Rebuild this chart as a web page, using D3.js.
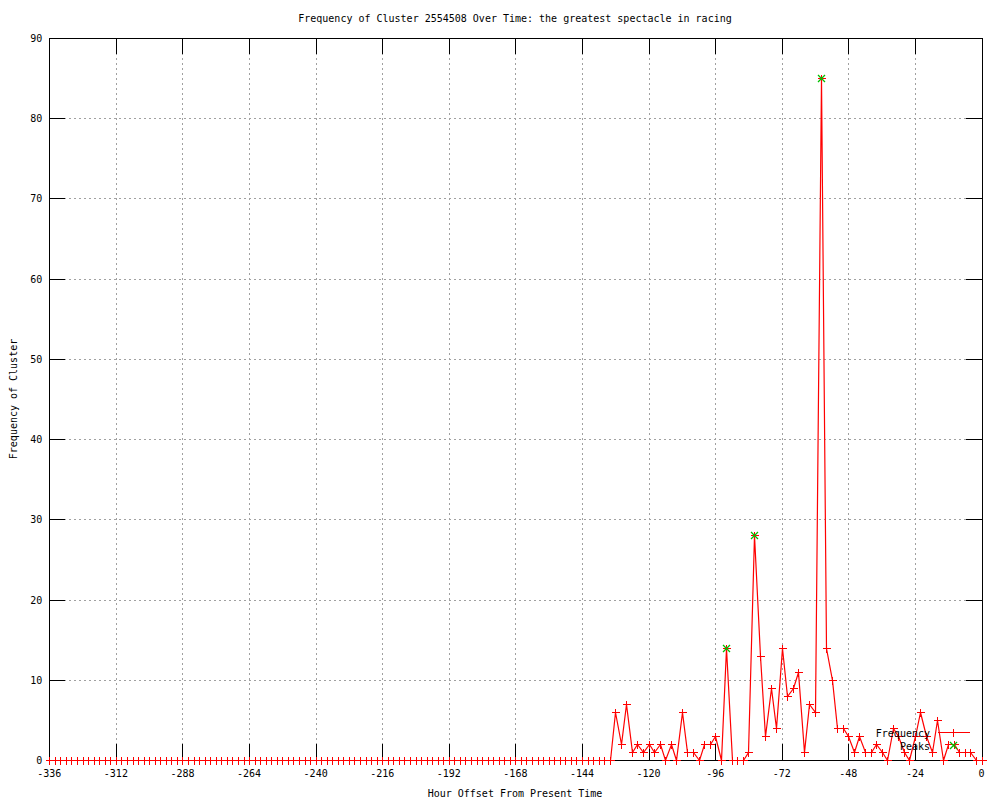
<!DOCTYPE html>
<html>
<head>
<meta charset="utf-8">
<script src="https://cdn.jsdelivr.net/npm/d3@7"></script>
<style>
  body { margin: 0; background: #fff; }
  text { font-family: "DejaVu Sans Mono", monospace; font-size: 10px; fill: #000; }
</style>
</head>
<body>
<div id="chart"></div>
<script>
  var width = 1000,
      height = 800,
      margin = {top: 38, bottom: 40, left: 49.3, right: 18.5};

  var titleText = "Frequency of Cluster 2554508 Over Time: the greatest spectacle in racing",
      xLabel = "Hour Offset From Present Time",
      yLabel = "Frequency of Cluster";

  var xTicks = [-336, -312, -288, -264, -240, -216, -192, -168, -144, -120, -96, -72, -48, -24, 0];
  var yTicks = [0, 10, 20, 30, 40, 50, 60, 70, 80, 90];

  // one reading every two hours, -336 .. 0
  var hours = [];
  for (var h = -336; h <= 0; h += 2) hours.push(h);

  var frequency = [
    0,0,0,0,0,0,0,0,0,0, 0,0,0,0,0,0,0,0,0,0,
    0,0,0,0,0,0,0,0,0,0, 0,0,0,0,0,0,0,0,0,0,
    0,0,0,0,0,0,0,0,0,0, 0,0,0,0,0,0,0,0,0,0,
    0,0,0,0,0,0,0,0,0,0, 0,0,0,0,0,0,0,0,0,0,
    0,0,0,0,0,0,0,0,0,0, 0,0,0,0,0,0,0,0,0,0,
    0,0,                                   // -336 .. -134
    6,2,7,1,2,1,2,1,2,0,2,0,6,1,1,0,2,      // -132 .. -100
    2,3,0,14,0,0,0,1,28,13,3,9,4,14,8,9,11, // -98 .. -66
    1,7,6,85,14,10,4,4,3,1,3,1,1,2,1,0,4,   // -64 .. -32
    3,1,0,3,6,3,1,5,0,2,2,1,1,1,0,0         // -30 .. 0
  ];

  var peakHours = [-92, -82, -58],
      peakValues = [14, 28, 85];

  var data = hours.map(function(h, i) { return {h: h, v: frequency[i]}; });
  var peaks = peakHours.map(function(h, i) { return {h: h, v: peakValues[i]}; });

  var x = d3.scaleLinear().domain([-336, 0]).range([margin.left, width - margin.right]);
  var y = d3.scaleLinear().domain([0, 90]).range([height - margin.bottom, margin.top]);

  var svg = d3.select("#chart").append("svg")
    .attr("width", width)
    .attr("height", height);

  var x0 = x.range()[0], x1 = x.range()[1], y0 = y.range()[0], y1 = y.range()[1];
  var tickLen = 16;

  // grid
  var grid = svg.append("g")
    .attr("stroke", "#a0a0a0")
    .attr("stroke-dasharray", "2,3")
    .attr("shape-rendering", "crispEdges");
  grid.selectAll(".gx")
    .data(xTicks.filter(function(t) { return t > -336 && t < 0; }))
    .enter().append("line")
    .attr("x1", d => Math.round(x(d)) + 0.5).attr("x2", d => Math.round(x(d)) + 0.5)
    .attr("y1", y1).attr("y2", y0);
  grid.selectAll(".gy")
    .data(yTicks.filter(function(t) { return t > 0 && t < 90; }))
    .enter().append("line")
    .attr("y1", d => Math.round(y(d)) + 0.5).attr("y2", d => Math.round(y(d)) + 0.5)
    .attr("x1", x0).attr("x2", x1);

  // tick marks on all four sides
  var ticks = svg.append("g")
    .attr("stroke", "#000")
    .attr("shape-rendering", "crispEdges");
  xTicks.forEach(function(t) {
    var px = Math.round(x(t)) + 0.5;
    ticks.append("line").attr("x1", px).attr("x2", px).attr("y1", y0).attr("y2", y0 - tickLen);
    ticks.append("line").attr("x1", px).attr("x2", px).attr("y1", y1).attr("y2", y1 + tickLen);
  });
  yTicks.forEach(function(t) {
    var py = Math.round(y(t)) + 0.5;
    ticks.append("line").attr("y1", py).attr("y2", py).attr("x1", x0).attr("x2", x0 + tickLen);
    ticks.append("line").attr("y1", py).attr("y2", py).attr("x1", x1).attr("x2", x1 - tickLen);
  });

  // border
  svg.append("rect")
    .attr("x", Math.round(x0) + 0.5).attr("y", y1 + 0.5)
    .attr("width", Math.round(x1) - Math.round(x0)).attr("height", y0 - y1)
    .attr("fill", "none").attr("stroke", "#000")
    .attr("shape-rendering", "crispEdges");

  // tick labels
  svg.selectAll(".xl")
    .data(xTicks).enter().append("text")
    .attr("x", d => x(d)).attr("y", y0 + 17)
    .attr("text-anchor", "middle")
    .text(d => d);
  svg.selectAll(".yl")
    .data(yTicks).enter().append("text")
    .attr("x", x0 - 7).attr("y", d => y(d) + 4)
    .attr("text-anchor", "end")
    .text(d => d);

  // titles
  svg.append("text").attr("x", 515).attr("y", 22).attr("text-anchor", "middle").text(titleText);
  svg.append("text").attr("x", 515).attr("y", 797).attr("text-anchor", "middle").text(xLabel);
  svg.append("text")
    .attr("transform", "translate(17,399) rotate(-90)")
    .attr("text-anchor", "middle")
    .text(yLabel);

  // frequency line + points
  var line = d3.line().x(d => Math.round(x(d.h)) + 0.5).y(d => Math.round(y(d.v)) + 0.5);
  svg.append("path")
    .datum(data)
    .attr("d", line)
    .attr("fill", "none")
    .attr("stroke", "#ff0000")
    .attr("stroke-width", 1.2);

  function plus(g, cx, cy) {
    g.append("path")
      .attr("d", "M" + (cx - 4) + "," + cy + "H" + (cx + 4) + "M" + cx + "," + (cy - 4) + "V" + (cy + 4))
      .attr("stroke", "#ff0000").attr("fill", "none")
      .attr("shape-rendering", "crispEdges");
  }
  function cross(g, cx, cy) {
    g.append("path")
      .attr("d", "M" + (cx - 3.5) + "," + (cy - 3.5) + "L" + (cx + 3.5) + "," + (cy + 3.5) +
                 "M" + (cx - 3.5) + "," + (cy + 3.5) + "L" + (cx + 3.5) + "," + (cy - 3.5))
      .attr("stroke", "#00c000").attr("stroke-width", 1.3).attr("fill", "none");
  }

  var pts = svg.append("g");
  data.forEach(function(d) { plus(pts, Math.round(x(d.h)) + 0.5, Math.round(y(d.v)) + 0.5); });

  var pk = svg.append("g");
  peaks.forEach(function(d) { cross(pk, Math.round(x(d.h)) + 0.5, Math.round(y(d.v)) + 0.5); });

  // legend
  var lg = svg.append("g");
  lg.append("text").attr("x", 930).attr("y", 737).attr("text-anchor", "end").text("Frequency");
  lg.append("line").attr("x1", 938).attr("x2", 970).attr("y1", 732.5).attr("y2", 732.5)
    .attr("stroke", "#ff0000").attr("shape-rendering", "crispEdges");
  plus(lg, 953.5, 732.5);
  lg.append("text").attr("x", 930).attr("y", 750).attr("text-anchor", "end").text("Peaks");
  cross(lg, 953.5, 745.5);
</script>
</body>
</html>
